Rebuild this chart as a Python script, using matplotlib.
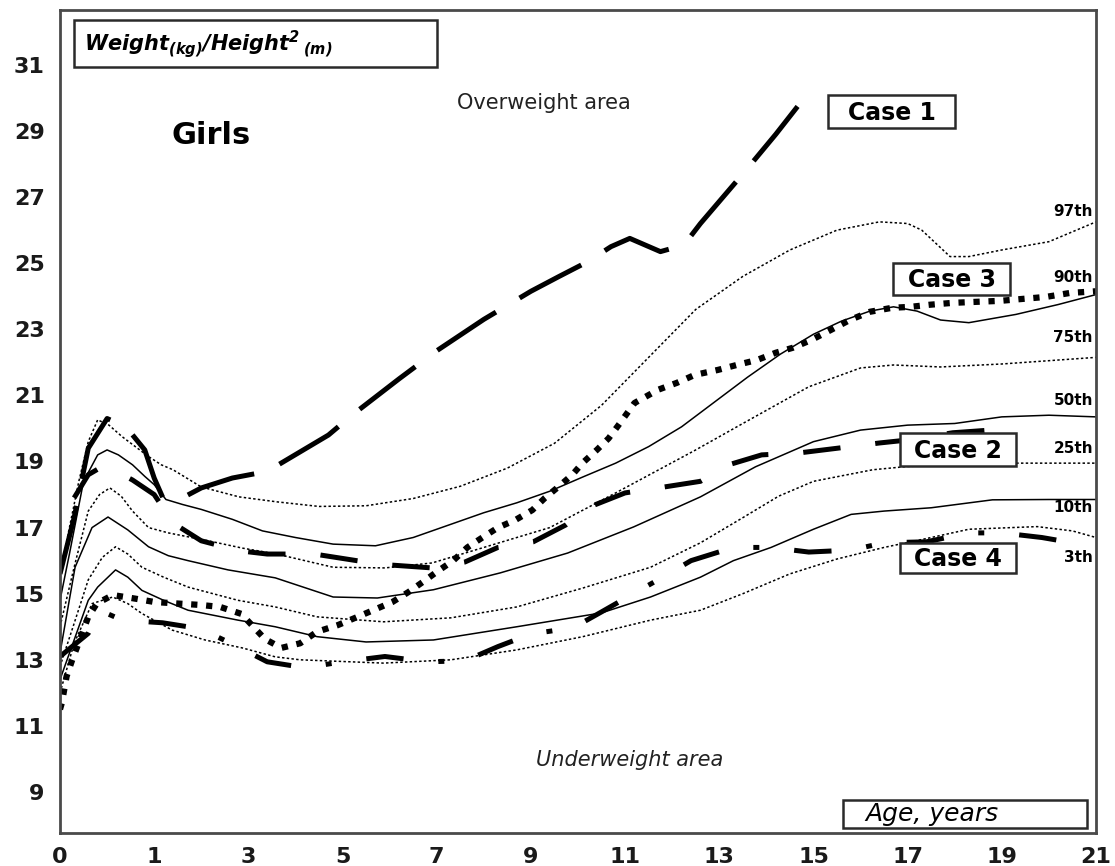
import matplotlib
matplotlib.use('Agg')
import matplotlib.pyplot as plt
import numpy as np
from matplotlib.patches import Rectangle

# reference percentiles (BMI, girls), age in years
p97_age = [0, 0.1, 0.2, 0.3, 0.4, 0.52, 0.66, 0.8, 0.94, 1.15, 1.4, 2, 2.8, 3.6, 4.5, 5.5, 6.5, 7.5, 8.5,
           9.5, 10.5, 11.5, 12.5, 13.5, 14.5, 15.5, 16.4, 17.0, 17.3, 17.6, 17.9, 18.3, 19, 20, 21]
p97_bmi = [15.6, 17.0, 18.4, 19.6, 20.26, 20.1, 19.75, 19.45, 19.15, 18.9, 18.75, 18.23, 17.93, 17.78, 17.64,
           17.66, 17.88, 18.25, 18.8, 19.55, 20.7, 22.15, 23.6, 24.6, 25.4, 26.0, 26.25, 26.2, 26.0, 25.6,
           25.2, 25.2, 25.4, 25.65, 26.25]

p90_age = [0, 0.1, 0.25, 0.4, 0.5, 0.62, 0.77, 0.9, 1.0, 1.25, 1.6, 2, 2.66, 3.3, 4, 4.8, 5.7, 6.5, 7.3, 8.0,
           8.7, 9.4, 10.1, 10.8, 11.5, 12.2, 12.9, 13.6, 14.3, 15.0, 15.6, 16.2, 16.7, 17.2, 17.7, 18.3,
           19.3, 20.2, 21]
p90_bmi = [14.8, 16.2, 18.4, 19.2, 19.35, 19.2, 18.9, 18.55, 18.3, 17.85, 17.7, 17.55, 17.25, 16.9, 16.7,
           16.5, 16.45, 16.7, 17.1, 17.45, 17.75, 18.1, 18.53, 18.95, 19.45, 20.05, 20.8, 21.55, 22.25,
           22.85, 23.25, 23.55, 23.68, 23.55, 23.28, 23.2, 23.45, 23.75, 24.05]

p75_age = [0, 0.15, 0.3, 0.42, 0.53, 0.65, 0.77, 0.94, 1.3, 2.15, 2.87, 3.6, 4.8, 5.9, 6.9, 8.0, 9.4, 10.8,
           12.5, 13.5, 14.9, 16.0, 16.7, 17.7, 19, 20, 21]
p75_bmi = [14.0, 15.8, 17.5, 18.0, 18.2, 17.95, 17.5, 17.0, 16.84, 16.6, 16.38, 16.2, 15.8, 15.78, 15.93,
           16.4, 17.0, 18.05, 19.35, 20.15, 21.26, 21.83, 21.92, 21.86, 21.95, 22.05, 22.15]

p50_age = [0, 0.16, 0.34, 0.51, 0.72, 0.94, 1.3, 1.72, 2.57, 3.57, 4.8, 5.74, 6.93, 8.35, 9.78, 11.18,
           12.6, 13.77, 15, 16, 17, 18, 19, 20, 21]
p50_bmi = [13.2, 15.8, 17.0, 17.32, 16.93, 16.42, 16.15, 16.0, 15.72, 15.48, 14.9, 14.87, 15.12, 15.63,
           16.23, 17.02, 17.93, 18.84, 19.6, 19.95, 20.1, 20.15, 20.35, 20.4, 20.35]

p25_age = [0, 0.15, 0.3, 0.45, 0.59, 0.72, 0.87, 1.2, 1.72, 2.78, 3.57, 4.46, 5.87, 7.3, 8.7, 10.1, 11.54,
           12.6, 13.5, 14.26, 15, 16.26, 17, 18, 19, 21]
p25_bmi = [12.8, 14.1, 15.42, 16.1, 16.42, 16.2, 15.8, 15.5, 15.2, 14.8, 14.6, 14.3, 14.15, 14.27, 14.6,
           15.17, 15.8, 16.54, 17.3, 17.95, 18.4, 18.75, 18.85, 18.9, 18.95, 18.95]

p10_age = [0, 0.15, 0.3, 0.4, 0.59, 0.72, 0.87, 1.2, 1.72, 2.78, 3.57, 4.46, 5.5, 6.93, 8.7, 10.5, 11.54,
           12.6, 13.3, 14.1, 15, 15.8, 16.5, 17.5, 18.8, 20, 21]
p10_bmi = [12.4, 13.6, 14.8, 15.2, 15.72, 15.5, 15.1, 14.8, 14.5, 14.2, 14.0, 13.7, 13.54, 13.6, 14.0,
           14.42, 14.9, 15.5, 16.0, 16.4, 16.95, 17.4, 17.5, 17.6, 17.84, 17.85, 17.85]

p3_age = [0, 0.15, 0.34, 0.56, 0.72, 0.87, 1.38, 2.08, 2.87, 3.57, 4.1, 5.87, 7.3, 8.7, 10.1, 11.54, 12.6,
          13.5, 14.5, 15.5, 16.5, 17.5, 18.3, 19.75, 20.5, 21]
p3_bmi = [12.0, 13.5, 14.7, 14.9, 14.7, 14.4, 13.9, 13.6, 13.36, 13.09, 13.0, 12.9, 13.0, 13.3, 13.7, 14.2,
          14.5, 15.0, 15.6, 16.05, 16.4, 16.7, 16.95, 17.03, 16.9, 16.7]

# patients
case1_age = [0, 0.15, 0.3, 0.5, 0.7, 0.9, 1.0, 1.2, 1.6, 2.0, 2.66, 3.4, 4.7, 5.2, 6.2, 7.0, 8.0, 9.0, 9.6,
             10.2, 10.7, 11.1, 11.75, 12.25, 12.6, 13.5, 14.2, 14.75]
case1_bmi = [15.6, 17.3, 19.4, 20.3, 20.05, 19.35, 18.5, 17.85, 17.9, 18.2, 18.5, 18.7, 19.8, 20.4, 21.5,
             22.35, 23.3, 24.15, 24.6, 25.04, 25.5, 25.75, 25.35, 25.55, 26.2, 27.7, 28.9, 29.9]

case2_age = [0.15, 0.3, 0.42, 0.6, 0.77, 1.0, 1.4, 2.0, 2.8, 3.4, 4.4, 5.3, 6.0, 6.9, 7.6, 8.3, 9.05, 9.74,
             10.2, 11.0, 11.7, 12.6, 13.2, 13.9, 14.7, 15.5, 16.4, 17.0, 17.96, 18.85]
case2_bmi = [17.9, 18.6, 18.8, 18.7, 18.44, 18.0, 17.14, 16.6, 16.3, 16.2, 16.2, 16.0, 15.87, 15.78, 15.96,
             16.4, 16.57, 17.08, 17.6, 18.05, 18.2, 18.4, 18.9, 19.2, 19.26, 19.4, 19.56, 19.65, 19.87, 19.96]

case3_age = [0, 0.02, 0.07, 0.13, 0.21, 0.3, 0.39, 0.56, 0.8, 1.0, 1.53, 1.98, 2.4, 2.85, 3.35, 3.7, 4.1,
             4.46, 4.9, 5.27, 5.65, 6.06, 6.4, 6.7, 7.04, 7.35, 7.65, 7.97, 8.3, 8.67, 9.03, 9.3, 9.58, 9.88,
             10.1, 10.4, 10.65, 10.86, 11.2, 11.7, 12.1, 12.48, 12.97, 13.37, 13.8, 14.2, 14.56, 14.96,
             15.37, 15.77, 16.2, 16.67, 17.07, 17.45, 17.96, 18.45, 18.96, 19.45, 19.94, 20.45, 21.0]
case3_bmi = [11.5, 11.7, 12.5, 13.0, 13.6, 14.3, 14.7, 14.96, 14.85, 14.75, 14.7, 14.66, 14.6, 14.39, 13.63,
             13.36, 13.5, 13.85, 14.05, 14.27, 14.5, 14.75, 15.05, 15.35, 15.7, 16.0, 16.4, 16.7, 17.0,
             17.23, 17.53, 17.9, 18.23, 18.6, 18.96, 19.35, 19.7, 20.1, 20.77, 21.17, 21.38, 21.62, 21.77,
             21.92, 22.07, 22.29, 22.44, 22.68, 22.98, 23.28, 23.53, 23.65, 23.68, 23.74, 23.8, 23.83,
             23.86, 23.92, 23.98, 24.1, 24.15]

case4_age = [0, 0.3, 0.42, 0.66, 1.18, 1.98, 2.7, 3.4, 4.2, 5.0, 5.9, 6.8, 7.6, 8.3, 9.0, 9.9, 10.5, 11.2,
             11.8, 12.4, 13.3, 14.1, 14.9, 15.8, 16.5, 17.4, 18.3, 19.0, 19.85, 20.75]
case4_bmi = [13.1, 13.8, 14.5, 14.2, 14.12, 13.94, 13.45, 12.94, 12.76, 12.94, 13.1, 12.94, 12.97, 13.4,
             13.78, 13.97, 14.45, 15.02, 15.5, 16.0, 16.4, 16.4, 16.26, 16.32, 16.54, 16.57, 16.84, 16.84,
             16.7, 16.48]

x_ticks = [0, 1, 3, 5, 7, 9, 11, 13, 15, 17, 19, 21]
y_ticks = [9, 11, 13, 15, 17, 19, 21, 23, 25, 27, 29, 31]
pct_labels = ['97th', '90th', '75th', '50th', '25th', '10th', '3th']


# first year of life drawn twice as wide as the others
def age_fwd(x):
    x = np.asarray(x, dtype=float)
    return np.where(x < 1, 2 * x, x + 1)


def age_inv(y):
    y = np.asarray(y, dtype=float)
    return np.where(y < 2, y / 2, y - 1)


plt.rcParams['mathtext.fontset'] = 'custom'
plt.rcParams['mathtext.bfit'] = 'DejaVu Sans:italic:bold'

fig = plt.figure(figsize=(11.15, 8.66), dpi=100)
ax = fig.add_axes([60 / 1115, 1 - 833 / 866, 1036 / 1115, 823 / 866])
ax.set_xscale('function', functions=(age_fwd, age_inv))
ax.set_xlim(0, 21)
ax.set_ylim(7.76, 32.66)


def pos(x, y):
    # layout helper: pixel position inside the frame -> axes fraction
    return (x - 60) / 1036, (833 - y) / 823


dotted = dict(color='black', lw=1.1, linestyle=(0, (1.6, 1.5)))
solid = dict(color='black', lw=1.1)
ax.plot(p97_age, p97_bmi, **dotted)
ax.plot(p90_age, p90_bmi, **solid)
ax.plot(p75_age, p75_bmi, **dotted)
ax.plot(p50_age, p50_bmi, **solid)
ax.plot(p25_age, p25_bmi, **dotted)
ax.plot(p10_age, p10_bmi, **solid)
ax.plot(p3_age, p3_bmi, **dotted)

ax.plot(case1_age, case1_bmi, color='black', lw=3.6, dashes=(14, 5.5))
ax.plot(case2_age, case2_bmi, color='black', lw=3.6, dashes=(7.5, 7))
ax.plot(case3_age, case3_bmi, color='black', lw=4.5, dashes=(1.0, 1.4))
ax.plot(case4_age, case4_bmi, color='black', lw=3.6, dashes=(7.5, 7, 1.2, 7))

ax.set_xticks(x_ticks)
ax.set_xticklabels([str(t) for t in x_ticks])
ax.set_yticks(y_ticks)
ax.set_yticklabels([str(t) for t in y_ticks])
ax.minorticks_off()
ax.tick_params(length=0, labelsize=16, colors='#1a1a1a')
ax.tick_params(axis='y', pad=11)
ax.tick_params(axis='x', pad=10)
for lab in ax.get_xticklabels() + ax.get_yticklabels():
    lab.set_fontweight('bold')
for sp in ax.spines.values():
    sp.set_linewidth(2)
    sp.set_color('#4a4a4a')


def box(x0, y0, x1, y1):
    a0, b0 = pos(x0, y1)
    a1, b1 = pos(x1, y0)
    ax.add_patch(Rectangle((a0, b0), a1 - a0, b1 - b0, transform=ax.transAxes, fc='white',
                           ec='#2a2a2a', lw=1.8, zorder=5, clip_on=False))


# axis titles in boxes
box(74, 20, 437, 67)
ax.text(*pos(84, 44), r'$\mathbfit{Weight}_{\mathbfit{(kg)}}\mathbfit{/Height}^{\mathbfit{2}}\,{}_{\mathbfit{(m)}}$',
        transform=ax.transAxes, fontsize=15, ha='left', va='center', zorder=6)
box(843, 800, 1087, 828)
ax.text(*pos(865, 814), 'Age, years', style='italic', fontsize=18, transform=ax.transAxes,
        ha='left', va='center', zorder=6)

ax.text(*pos(211, 135), 'Girls', fontsize=22, fontweight='bold', transform=ax.transAxes,
        ha='center', va='center')
ax.text(*pos(544, 103), 'Overweight area', fontsize=15, transform=ax.transAxes,
        ha='center', va='center', color='#222222')
ax.text(*pos(630, 760), 'Underweight area', fontsize=15, style='italic', transform=ax.transAxes,
        ha='center', va='center', color='#222222')

# patient labels
for name, (x0, y0, x1, y1) in [('Case 1', (828, 95, 955, 128)), ('Case 3', (893, 263, 1010, 295)),
                               ('Case 2', (900, 433, 1016, 466)), ('Case 4', (900, 543, 1016, 573))]:
    box(x0, y0, x1, y1)
    ax.text(*pos((x0 + x1) / 2, (y0 + y1) / 2 + 1), name, fontsize=17, fontweight='bold',
            transform=ax.transAxes, ha='center', va='center', zorder=6)

# percentile names at the right edge
for lab, y in zip(pct_labels, [212, 277, 338, 400, 448, 508, 557]):
    ax.text(*pos(1093, y), lab, fontsize=11, fontweight='bold', transform=ax.transAxes,
            ha='right', va='center')

fig.savefig('out.png', dpi=100)
